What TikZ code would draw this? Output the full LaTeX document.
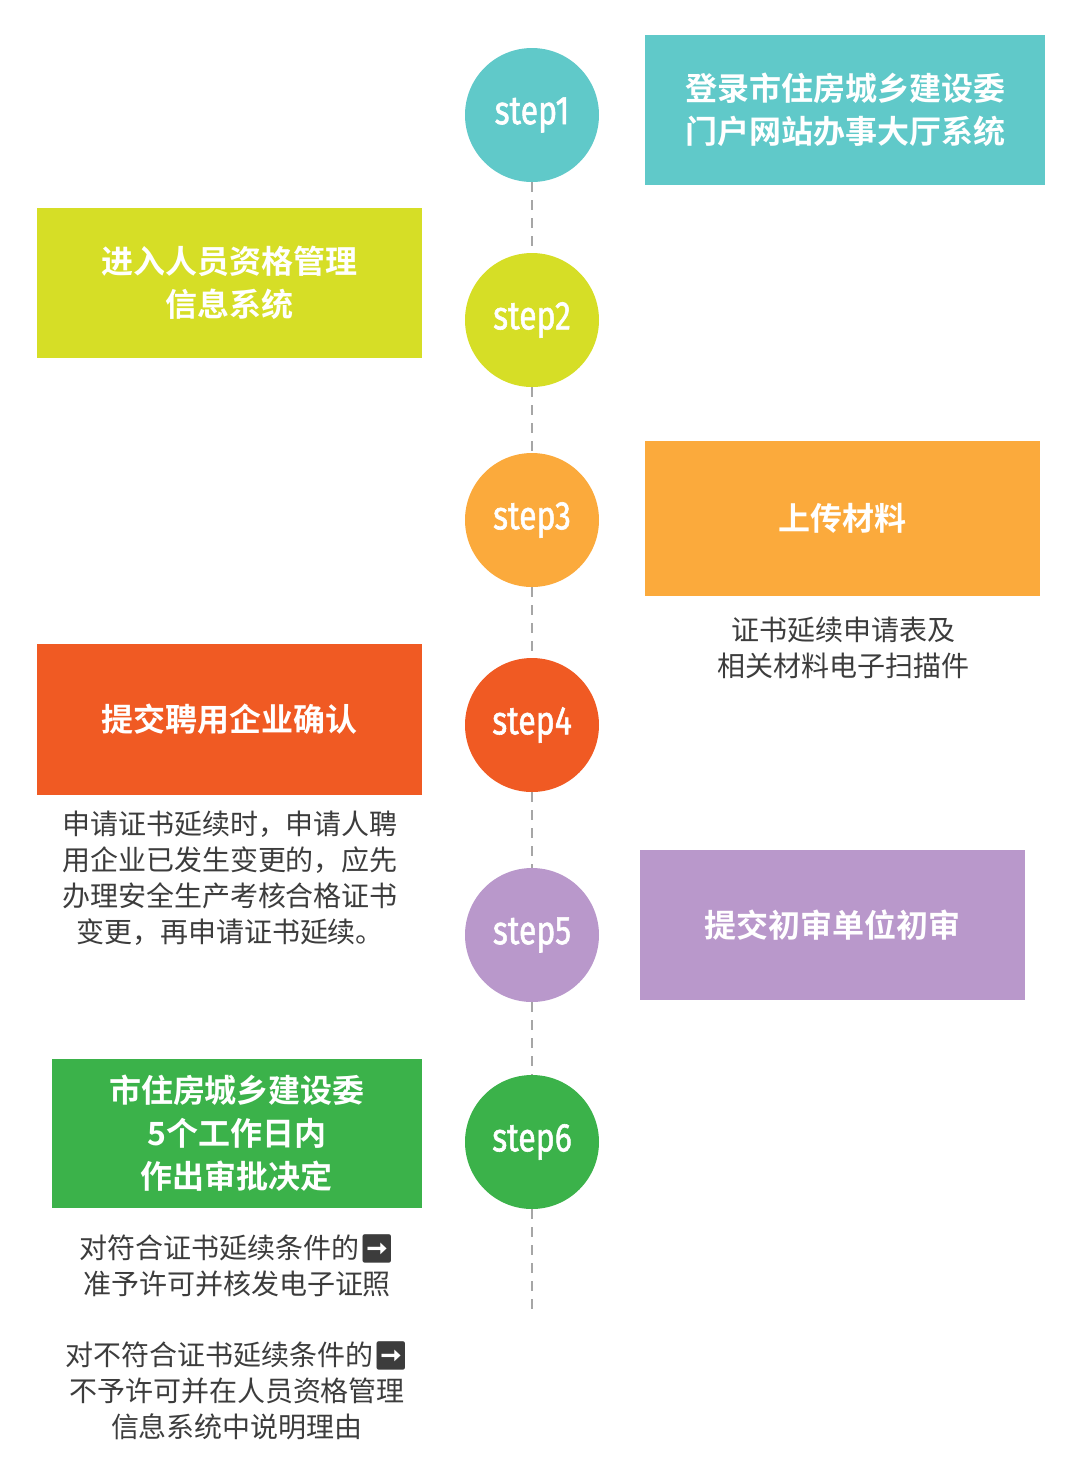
\documentclass[tikz,border=0pt]{standalone}
\usepackage{fontspec}
\setmainfont{Noto Sans CJK SC}
\newfontfamily\cjkb{Noto Sans CJK SC Bold}
\newfontfamily\emo{Noto Emoji}
\newfontfamily\stepf{Fira Sans}[FakeBold=1.5]
\definecolor{cteal}{RGB}{96,201,201}
\definecolor{clime}{RGB}{214,222,38}
\definecolor{corange}{RGB}{251,170,60}
\definecolor{cred}{RGB}{240,90,35}
\definecolor{cpurple}{RGB}{185,152,203}
\definecolor{cgreen}{RGB}{59,178,74}
\definecolor{ctext}{RGB}{60,60,60}
\begin{document}
\begin{tikzpicture}[x=0.5pt,y=-0.5pt,
  stepc/.style={circle,fill=#1,minimum size=67pt,inner sep=0pt,text=white,font=\stepf\fontsize{20}{20}\selectfont},
  boxn/.style={fill=#1,text=white,inner sep=0pt,align=center,font=\cjkb\fontsize{16}{21.5}\selectfont},
  note/.style={text=ctext,align=center,font=\fontsize{14}{18}\selectfont},
  link/.style={draw=gray!70,dashed,line width=1pt,dash pattern=on 5pt off 4pt}]
\useasboundingbox (0,0) rectangle (1080,1480);
\node[stepc=cteal] (c1) at (532,115) {\scalebox{0.8}[1]{step1}};
\node[stepc=clime] (c2) at (532,320) {\scalebox{0.8}[1]{step2}};
\node[stepc=corange] (c3) at (532,520) {\scalebox{0.8}[1]{step3}};
\node[stepc=cred] (c4) at (532,725) {\scalebox{0.8}[1]{step4}};
\node[stepc=cpurple] (c5) at (532,935) {\scalebox{0.8}[1]{step5}};
\node[stepc=cgreen] (c6) at (532,1142) {\scalebox{0.8}[1]{step6}};
\coordinate (end) at (532,1310);
\draw[link] (c1)--(c2); \draw[link] (c2)--(c3); \draw[link] (c3)--(c4);
\draw[link] (c4)--(c5); \draw[link] (c5)--(c6); \draw[link] (c6)--(end);
\node[boxn=cteal,minimum width=200pt,minimum height=75pt] (b1) at (845,109.5) {登录市住房城乡建设委\\门户网站办事大厅系统};
\node[boxn=clime,minimum width=192.5pt,minimum height=75pt] (b2) at (229.5,283) {进入人员资格管理\\信息系统};
\node[boxn=corange,minimum width=197.5pt,minimum height=77.5pt] (b3) at (842.5,518.5) {上传材料};
\node[note] (n3) at (843,648) {证书延续申请表及\\相关材料电子扫描件};
\node[boxn=cred,minimum width=192.5pt,minimum height=75.5pt] (b4) at (229.5,719.5) {提交聘用企业确认};
\node[note] (n4) at (230,878) {申请证书延续时，申请人聘\\用企业已发生变更的，应先\\办理安全生产考核合格证书\\变更，再申请证书延续。};
\node[boxn=cpurple,minimum width=192.5pt,minimum height=75pt] (b5) at (832.5,925) {提交初审单位初审};
\node[boxn=cgreen,minimum width=185pt,minimum height=74.5pt] (b6) at (237,1133.5) {市住房城乡建设委\\5个工作日内\\作出审批决定};
\node[note] (n6a) at (237,1266) {对符合证书延续条件的{\emo ➡}\\准予许可并核发电子证照};
\node[note] (n6b) at (237,1391) {对不符合证书延续条件的{\emo ➡}\\不予许可并在人员资格管理\\信息系统中说明理由};
\end{tikzpicture}
\end{document}
